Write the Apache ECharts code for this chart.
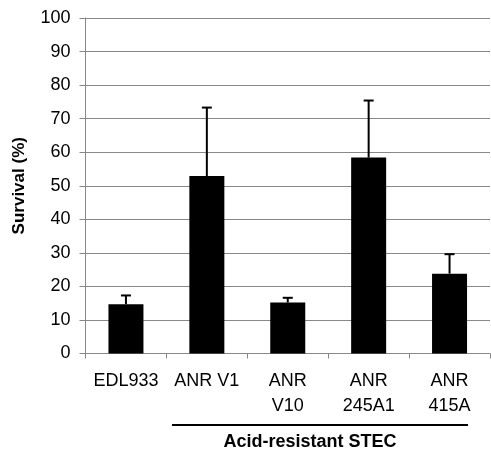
<!DOCTYPE html>
<html>
<head>
<meta charset="utf-8">
<script src="https://cdn.jsdelivr.net/npm/echarts@6/dist/echarts.min.js"></script>
<style>
  html, body { margin: 0; padding: 0; background: #fff; }
  #chart { width: 491px; height: 451px; }
</style>
</head>
<body>
<div id="chart"></div>
<script>
var categories = ['EDL933', 'ANR V1', 'ANR\nV10', 'ANR\n245A1', 'ANR\n415A'];
var survival = [14.7, 52.9, 15.2, 58.4, 23.8];
var errorUp = [2.6, 20.4, 1.4, 17.0, 5.8];
var yTicks = [0, 10, 20, 30, 40, 50, 60, 70, 80, 90, 100];

var font = '"Liberation Sans", Arial, sans-serif';
var chartDom = document.getElementById('chart');
var myChart = echarts.init(chartDom);

var errData = survival.map(function (v, i) { return [i, v, v + errorUp[i]]; });

var option = {
  animation: false,
  grid: { left: 85.5, right: 1, top: 18, bottom: 97.5 },
  xAxis: {
    type: 'category',
    data: categories,
    axisLine: { lineStyle: { color: '#888', width: 1 } },
    axisTick: { show: true, length: 5, lineStyle: { color: '#888' } },
    axisLabel: {
      color: '#000', fontSize: 18, fontFamily: font,
      lineHeight: 25, margin: 15, interval: 0
    }
  },
  yAxis: {
    type: 'value',
    min: yTicks[0],
    max: yTicks[yTicks.length - 1],
    interval: 10,
    name: 'Survival (%)',
    nameLocation: 'middle',
    nameRotate: 90,
    nameGap: 58,
    nameTextStyle: { color: '#000', fontSize: 17, fontWeight: 'bold', fontFamily: font },
    axisLine: { show: true, lineStyle: { color: '#888', width: 1 } },
    axisTick: { show: true, length: 6, lineStyle: { color: '#888' } },
    axisLabel: { color: '#000', fontSize: 18, fontFamily: font, margin: 15 },
    splitLine: { lineStyle: { color: '#888', width: 1 } }
  },
  series: [
    {
      type: 'bar',
      data: survival,
      barWidth: 35,
      itemStyle: { color: '#000' }
    },
    {
      type: 'custom',
      data: errData,
      z: 5,
      renderItem: function (params, api) {
        var base = api.coord([api.value(0), api.value(1)]);
        var top = api.coord([api.value(0), api.value(2)]);
        var style = { stroke: '#000', lineWidth: 2 };
        return {
          type: 'group',
          children: [
            { type: 'line', shape: { x1: base[0], y1: base[1], x2: top[0], y2: top[1] }, style: style },
            { type: 'line', shape: { x1: top[0] - 5, y1: top[1], x2: top[0] + 5, y2: top[1] }, style: style }
          ]
        };
      }
    }
  ],
  graphic: [
    {
      type: 'line',
      shape: { x1: 172, y1: 425, x2: 468, y2: 425 },
      style: { stroke: '#000', lineWidth: 2 }
    },
    {
      type: 'text',
      x: 310, y: 442,
      style: {
        text: 'Acid-resistant STEC',
        fill: '#000',
        font: 'bold 18px ' + font,
        align: 'center',
        verticalAlign: 'middle'
      }
    }
  ]
};

option && myChart.setOption(option);
</script>
</body>
</html>
